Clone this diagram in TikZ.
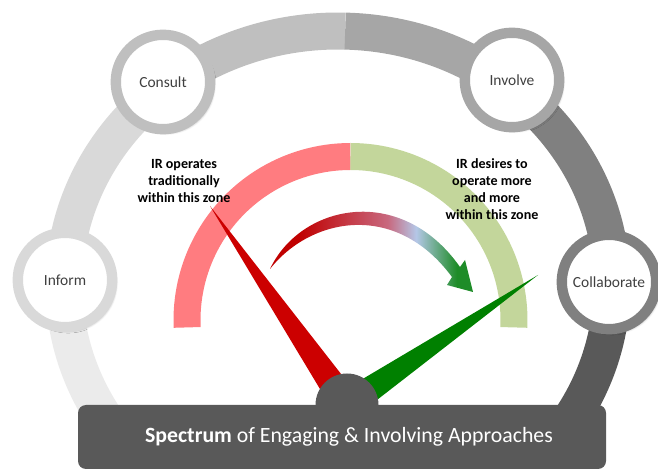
\documentclass[tikz,border=0pt]{standalone}
\usepackage{fontspec}
\setmainfont{Carlito}
\usetikzlibrary{shadows.blur}

\definecolor{ringA}{HTML}{EBEBEB}
\definecolor{ringB}{HTML}{D9D9D9}
\definecolor{ringC}{HTML}{BFBFBF}
\definecolor{ringD}{HTML}{A6A6A6}
\definecolor{ringE}{HTML}{808080}
\definecolor{ringF}{HTML}{595959}
\definecolor{zonered}{HTML}{FF7C80}
\definecolor{zonegreen}{HTML}{C3D69B}
\definecolor{needlered}{HTML}{CC0000}
\definecolor{needlegreen}{HTML}{008000}
\definecolor{arrowred}{HTML}{C00000}
\definecolor{arrowpink}{HTML}{C8687E}
\definecolor{arrowblue}{HTML}{B4C7E7}
\definecolor{arrowgreen}{HTML}{1E8C28}

\pgfdeclarehorizontalshading{swoosh}{100bp}{color(0bp)=(arrowred); color(32bp)=(arrowred); color(54bp)=(arrowpink); color(61bp)=(arrowblue); color(71bp)=(arrowgreen); color(100bp)=(arrowgreen)}

\begin{document}
\begin{tikzpicture}[x=0.25mm,y=-0.25mm,
  stage/.style={circle,line width=2.6mm,fill=white,minimum size=23.6mm,inner sep=0pt,
    text=black!75,font=\fontsize{11}{13}\selectfont,
    blur shadow={shadow xshift=0.8mm,shadow yshift=-0.8mm,shadow blur steps=6,shadow opacity=40}},
  zone/.style={align=center,font=\bfseries\fontsize{10}{12}\selectfont}]
\useasboundingbox (0,0) rectangle (658,470);

% outer ring, one shade per stage
\coordinate (c) at (338,285);
\draw[ringA,line width=9.25mm] (c) ++(148:274 and 254) arc[start angle=148,end angle=181,x radius=274,y radius=254];
\draw[ringB,line width=9.25mm] (c) ++(181:274 and 254) arc[start angle=181,end angle=231,x radius=274,y radius=254];
\draw[ringC,line width=9.25mm] (c) ++(231:274 and 254) arc[start angle=231,end angle=271.5,x radius=274,y radius=254];
\draw[ringD,line width=9.25mm] (c) ++(271.5:274 and 254) arc[start angle=271.5,end angle=308,x radius=274,y radius=254];
\draw[ringE,line width=9.25mm] (c) ++(308:274 and 254) arc[start angle=308,end angle=359,x radius=274,y radius=254];
\draw[ringF,line width=9.25mm] (c) ++(359:274 and 254) arc[start angle=359,end angle=395,x radius=274,y radius=254];

\node[stage,draw=ringB] (inform) at (65,280) {Inform};
\node[stage,draw=ringC] (consult) at (163,82) {Consult};
\node[stage,draw=ringD] (involve) at (512,80) {Involve};
\node[stage,draw=ringE] (collab) at (609,282) {Collaborate};

% inner zones
\draw[zonered,line width=6.75mm] (350.5,320) ++(177.4:163.5) arc[start angle=177.4,end angle=270,radius=163.5];
\draw[zonegreen,line width=6.75mm] (350.5,320) ++(270:163.5) arc[start angle=270,end angle=362.6,radius=163.5];

\node[zone] (oldzone) at (184,181) {IR operates\\traditionally\\within this zone};
\node[zone] (newzone) at (492,189) {IR desires to\\operate more\\and more\\within this zone};

\shade[shading=swoosh] (270,269) .. controls (300,205) and (400,182) .. (460,267) -- (465,260) -- (473,292)
  -- (447,285) -- (452,277) .. controls (395,200) and (310,218) .. (270,269) -- cycle;

% needles
\fill[needlered] (210,206) -- (359,397) -- (335,414) -- cycle;
\fill[needlegreen] (538,275) -- (355,417) -- (339,393) -- cycle;

\fill[ringF] (347,405) circle[radius=31.5];
\fill[ringF,rounded corners=2mm] (78,405) rectangle (606,469);
\node[text=white,font=\fontsize{15.5}{17}\selectfont] (title) at (349,437) {\textbf{Spectrum} of Engaging \& Involving Approaches};

\end{tikzpicture}
\end{document}
